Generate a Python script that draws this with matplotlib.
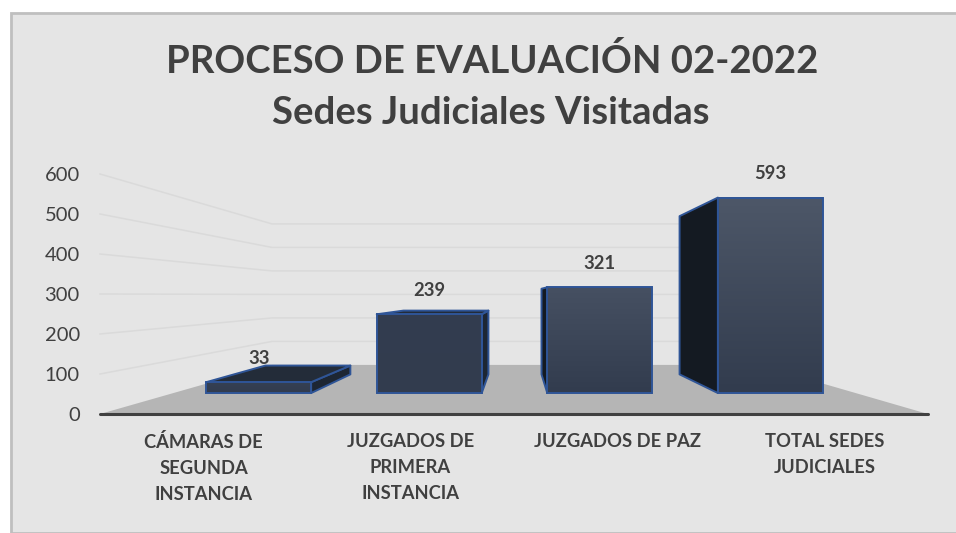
import numpy as np
import matplotlib
matplotlib.use("Agg")
import matplotlib.pyplot as plt
from matplotlib.patches import Polygon, Rectangle
from matplotlib.colors import to_rgb

title = "PROCESO DE EVALUACIÓN 02-2022\nSedes Judiciales Visitadas"
categories = ["CÁMARAS DE\nSEGUNDA\nINSTANCIA", "JUZGADOS DE\nPRIMERA\nINSTANCIA",
              "JUZGADOS DE PAZ", "TOTAL SEDES\nJUDICIALES"]
values = [33, 239, 321, 593]
yticks = [0, 100, 200, 300, 400, 500, 600]
top_colors = ["#354053", "#333D50", "#465062", "#4D5768"]

W, H = 956, 533
BOTTOM_COLOR = "#323C4E"
EDGE = "#2F5597"
TEXT = "#404040"
# perspective of the fake 3-D scene, in data units
VX, VY = 2.014, 297.5
S_WALL, S_FRONT, S_BACK = 0.5875, 0.824, 0.667
BAR_W = 0.6155

plt.rcParams["font.family"] = ["Lato", "DejaVu Sans"]
fig = plt.figure(figsize=(W / 100, H / 100), dpi=100, facecolor="white")
fig.add_artist(Rectangle((11 / W, 0), 1, 1 - 13 / H, transform=fig.transFigure,
                         facecolor="#E5E5E5", edgecolor="#BFBFBF", linewidth=2.0, zorder=-10))

ax = fig.add_axes([100 / W, 1 - 414 / H, 828 / W, 240 / H])
ax.patch.set_alpha(0)
ax.set_xlim(0, 4)
ax.set_ylim(0, 600)


def proj(x, v, s):
    return (VX + s * (x - VX), VY + s * (v - VY))


# side walls + back wall gridlines
for t in yticks[1:]:
    pts = [proj(0, t, 1), proj(0, t, S_WALL), proj(4, t, S_WALL)]
    ax.plot(*zip(*pts), color="#DADADA", lw=1.1, zorder=1, clip_on=False)

# floor
ax.add_patch(Polygon([proj(0, 0, 1), proj(4, 0, 1), proj(4, 0, S_WALL), proj(0, 0, S_WALL)],
                     closed=True, facecolor="#B5B5B5", edgecolor="none", zorder=2))

z = 3
for i, (v, top) in enumerate(zip(values, top_colors)):
    x0, x1 = i + 0.5 - BAR_W / 2, i + 0.5 + BAR_W / 2
    kw = dict(closed=True, edgecolor=EDGE, linewidth=1.4, joinstyle="round", clip_on=False)
    if x0 > VX:
        ax.add_patch(Polygon([proj(x0, 0, S_FRONT), proj(x0, v, S_FRONT), proj(x0, v, S_BACK), proj(x0, 0, S_BACK)],
                             facecolor="#141A22", zorder=z, **kw))
    if x1 < VX:
        ax.add_patch(Polygon([proj(x1, 0, S_FRONT), proj(x1, v, S_FRONT), proj(x1, v, S_BACK), proj(x1, 0, S_BACK)],
                             facecolor="#1D2633", zorder=z, **kw))
    if v < VY:
        ax.add_patch(Polygon([proj(x0, v, S_FRONT), proj(x1, v, S_FRONT), proj(x1, v, S_BACK), proj(x0, v, S_BACK)],
                             facecolor="#232C39", zorder=z + 0.1, **kw))
    # front face with vertical gradient
    (fx0, fy0), (fx1, fy1) = proj(x0, 0, S_FRONT), proj(x1, v, S_FRONT)
    c0, c1 = np.array(to_rgb(top)), np.array(to_rgb(BOTTOM_COLOR))
    grad = np.linspace(0, 1, 64)[:, None, None] * (c1 - c0)[None, None, :] + c0[None, None, :]
    ax.imshow(grad, extent=[fx0, fx1, fy0, fy1], origin="upper", aspect="auto",
              zorder=z + 0.2, interpolation="bilinear")
    ax.add_patch(Rectangle((fx0, fy0), fx1 - fx0, fy1 - fy0, facecolor="none", zorder=z + 0.3,
                           edgecolor=EDGE, linewidth=1.4, clip_on=False))
    ax.annotate(str(v), xy=((fx0 + fx1) / 2, fy1), xytext=(0, 17.3), textcoords="offset points",
                ha="center", va="center", fontsize=13.2, fontweight="bold", color=TEXT, zorder=z + 1,
                annotation_clip=False)
    z += 1

ax.set_xlim(0, 4)
ax.set_ylim(0, 600)
ax.set_xticks(np.arange(len(categories)) + 0.5)
ax.set_xticklabels(categories, fontsize=13.2, fontweight="bold", color=TEXT, linespacing=1.62)
ax.set_yticks(yticks)
ax.set_yticklabels([str(t) for t in yticks], fontsize=14.5, color=TEXT)
ax.tick_params(axis="y", length=0, pad=14.5)
ax.tick_params(axis="x", length=0, pad=14)
for s in ["top", "left", "right"]:
    ax.spines[s].set_visible(False)
ax.spines["bottom"].set_color("#404040")
ax.spines["bottom"].set_linewidth(2.2)
ax.spines["bottom"].set_capstyle("round")
ax.spines["bottom"].set_zorder(20)

fig.text(492 / W, 1 - 61 / H, title.split("\n")[0], ha="center", va="center", fontsize=27.5,
         fontweight="bold", color=TEXT)
fig.text(491 / W, 1 - 113 / H, title.split("\n")[1], ha="center", va="center", fontsize=27.5,
         fontweight="bold", color=TEXT)

fig.savefig("out.png", dpi=100, facecolor="white")
